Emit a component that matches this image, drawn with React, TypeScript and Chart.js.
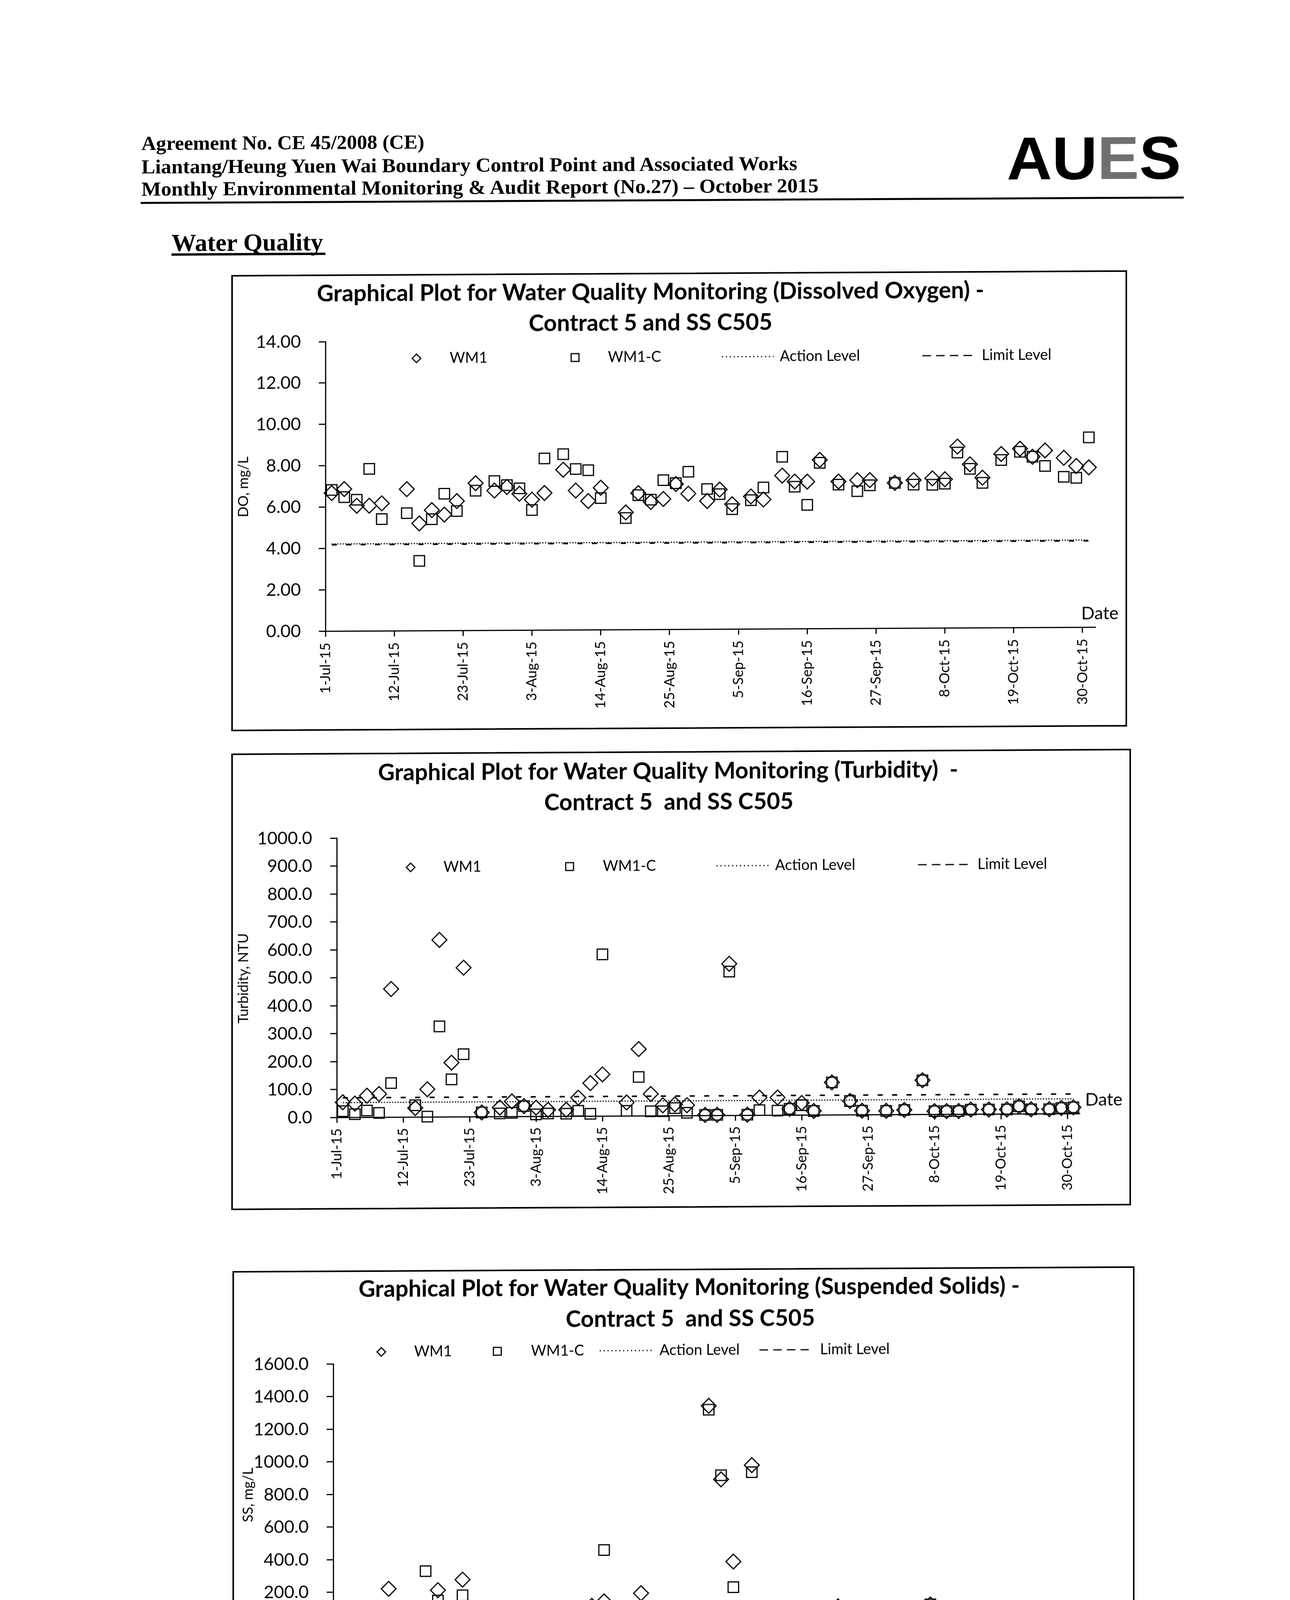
import React, { useEffect, useRef } from 'react';
import { Chart, registerables } from 'chart.js';

Chart.register(...registerables);

// ---------------- data ----------------
const sampleDates = [
  '2015-07-02', '2015-07-04', '2015-07-06', '2015-07-08', '2015-07-10', '2015-07-14', '2015-07-16',
  '2015-07-18', '2015-07-20', '2015-07-22', '2015-07-25', '2015-07-28', '2015-07-30',
  '2015-08-01', '2015-08-03', '2015-08-05', '2015-08-08', '2015-08-10', '2015-08-12', '2015-08-14',
  '2015-08-18', '2015-08-20', '2015-08-22', '2015-08-24', '2015-08-26', '2015-08-28', '2015-08-31',
  '2015-09-02', '2015-09-04', '2015-09-07', '2015-09-09', '2015-09-12', '2015-09-14', '2015-09-16',
  '2015-09-18', '2015-09-21', '2015-09-24', '2015-09-26', '2015-09-30',
  '2015-10-03', '2015-10-06', '2015-10-08', '2015-10-10', '2015-10-12', '2015-10-14', '2015-10-17',
  '2015-10-20', '2015-10-22', '2015-10-24', '2015-10-27', '2015-10-29', '2015-10-31',
];

const doWM1 = [
  6.68, 6.87, 6.06, 6.06, 6.17, 6.85, 5.19, 5.83, 5.61, 6.26, 7.12, 6.76, 6.93,
  6.60, 6.31, 6.63, 7.75, 6.74, 6.23, 6.87, 5.67, 6.60, 6.17, 6.31, 7.03, 6.56, 6.20,
  6.75, 6.04, 6.41, 6.26, 7.41, 7.12, 7.11, 8.16, 7.11, 7.17, 7.17, 7.03,
  7.16, 7.24, 7.19, 8.77, 7.91, 7.26, 8.40, 8.65, 8.26, 8.56, 8.20, 7.80, 7.73,
];
const doWM1C = [
  6.83, 6.48, 6.35, 7.84, 5.41, 5.69, 3.38, 5.39, 6.62, 5.78, 6.76, 7.22, 7.02,
  6.86, 5.81, 8.30, 8.50, 7.78, 7.72, 6.37, 5.40, 6.50, 6.28, 7.22, 7.07, 7.62, 6.78,
  6.53, 5.80, 6.23, 6.84, 8.32, 6.87, 5.99, 8.02, 6.96, 6.64, 6.92, 7.03,
  6.94, 6.93, 6.98, 8.48, 7.69, 7.01, 8.11, 8.50, 8.26, 7.81, 7.28, 7.23, 9.18,
];
const doActionLevel = 4.22;
const doLimitLevel = 4.18;

const turbWM1 = [
  54, 49, 77, 83, 459, 32, 99, 634, 194, 534, 15, 32, 54,
  37, 31, 23, 23, 66, 118, 149, 48, 239, 78, 37, 40, 37, 2,
  2, 543, 2, 63, 63, 22, 43, 14, 116, 49, 14, 13,
  16, 122, 11, 11, 11, 16, 16, 16, 27, 16, 16, 20, 22,
];
const turbWM1C = [
  22, 11, 24, 15, 122, 42, 1, 324, 134, 224, 15, 11, 13,
  37, 7, 10, 9, 19, 8, 579, 18, 139, 16, 16, 27, 10, 2,
  2, 515, 2, 18, 16, 22, 35, 14, 116, 49, 14, 13,
  16, 122, 11, 11, 11, 16, 16, 16, 27, 16, 16, 20, 22,
];
const turbActionLevel = 53;
const turbLimitLevel = 70;

const ssWM1 = [
  46, 45, 60, 63, 220, 21, 53, 210, 94, 274, 10, 32, 55,
  37, 26, 26, 11, 53, 109, 136, 51, 185, 92, 35, 45, 40, 1331,
  880, 376, 966, 70, 70, 15, 70, 9, 98, 52, 6, 6,
  24, 107, 6, 15, 9, 15, 15, 15, 28, 15, 15, 24, 15,
];
const ssWM1C = [
  15, 4, 19, 5, 59, 21, 327, 147, 106, 178, 10, 2, 9,
  37, 2, 2, 2, 7, 7, 451, 5, 73, 2, 4, 32, 2, 1307,
  905, 219, 923, 20, 24, 24, 80, 9, 98, 52, 6, 6,
  24, 107, 6, 15, 9, 15, 15, 15, 28, 15, 15, 24, 24,
];
const ssActionLevel = 58;
const ssLimitLevel = 63;

const seriesLabels = ['WM1', 'WM1-C', 'Action Level', 'Limit Level'];
const xAxisStart = '2015-07-01';
const xAxisEnd = '2015-11-01';
const xTickStepDays = 11;
const monthNames = ['Jan', 'Feb', 'Mar', 'Apr', 'May', 'Jun', 'Jul', 'Aug', 'Sep', 'Oct', 'Nov', 'Dec'];

// ---------------- helpers ----------------
const toUTC = (iso: string) => {
  const [y, m, d] = iso.split('-').map(Number);
  return Date.UTC(y, m - 1, d);
};
const BASE = toUTC(xAxisStart);
const dayOf = (iso: string) => (toUTC(iso) - BASE) / 86400000;
const fmtDay = (v: number) => {
  const dt = new Date(BASE + Math.round(v) * 86400000);
  return `${dt.getUTCDate()}-${monthNames[dt.getUTCMonth()]}-${String(dt.getUTCFullYear()).slice(2)}`;
};

type Box = { x: number; y: number; w: number; h: number };
type Area = { left: number; top: number; right: number; bottom: number };
type Deco = {
  title: string[];
  titleX: number[];
  titleY: number[];
  legendY: number;
  legendX: number[];
  dateRight: number;
  dateBaseline: number;
};

function makeDecoPlugin(deco: Deco) {
  return {
    id: 'wqDeco',
    afterDraw(chart: any) {
      const ctx: CanvasRenderingContext2D = chart.ctx;
      const labels = chart.data.datasets.map((d: any) => String(d.label));
      ctx.save();
      ctx.fillStyle = '#000';
      ctx.strokeStyle = '#000';
      ctx.textAlign = 'center';
      ctx.textBaseline = 'middle';
      ctx.font = 'bold 59px Lato';
      deco.title.forEach((t, i) => ctx.fillText(t, deco.titleX[i], deco.titleY[i]));

      const y = deco.legendY;
      const L = deco.legendX;
      ctx.lineWidth = 3;
      ctx.beginPath();
      ctx.moveTo(L[0] - 11, y);
      ctx.lineTo(L[0], y - 11);
      ctx.lineTo(L[0] + 11, y);
      ctx.lineTo(L[0], y + 11);
      ctx.closePath();
      ctx.stroke();
      ctx.strokeRect(L[2] - 10, y - 10, 20, 20);
      ctx.setLineDash([3, 7]);
      ctx.beginPath();
      ctx.moveTo(L[4], y);
      ctx.lineTo(L[5], y);
      ctx.stroke();
      ctx.setLineDash([22, 13]);
      ctx.beginPath();
      ctx.moveTo(L[7], y);
      ctx.lineTo(L[8], y);
      ctx.stroke();
      ctx.setLineDash([]);

      ctx.font = '38px Lato';
      ctx.textAlign = 'left';
      ctx.fillText(labels[0], L[1], y);
      ctx.fillText(labels[1], L[3], y);
      ctx.fillText(labels[2], L[6], y);
      ctx.fillText(labels[3], L[9], y);

      ctx.font = '45px Lato';
      ctx.textAlign = 'right';
      ctx.textBaseline = 'alphabetic';
      ctx.fillText('Date', deco.dateRight, deco.dateBaseline);
      ctx.restore();
    },
  };
}

type Props = {
  box: Box;
  area: Area;
  yMin: number;
  yMax: number;
  yStep: number;
  yDecimals: number;
  yTitle: string;
  yTitlePad: number;
  xLabelPad: number;
  wm1: number[];
  wm1c: number[];
  action: number;
  limit: number;
  deco: Deco;
};

function WQChart(p: Props) {
  const ref = useRef<HTMLCanvasElement | null>(null);
  useEffect(() => {
    if (!ref.current) return;
    const pts = (vals: number[]) => sampleDates.map((d, i) => ({ x: dayOf(d), y: vals[i] }));
    const first = dayOf(sampleDates[0]);
    const last = dayOf(sampleDates[sampleDates.length - 1]);
    const level = (v: number) => [{ x: first, y: v }, { x: last, y: v }];
    const markerCommon = {
      showLine: false,
      pointRadius: 19,
      pointBorderWidth: 3,
      borderWidth: 3,
      borderColor: '#000',
      pointBorderColor: '#000',
      backgroundColor: 'rgba(0,0,0,0)',
      pointBackgroundColor: 'rgba(0,0,0,0)',
      clip: false as any,
    };
    const chart = new Chart(ref.current, {
      type: 'scatter',
      data: {
        datasets: [
          { ...markerCommon, label: seriesLabels[0], data: pts(p.wm1), pointStyle: 'rectRot' },
          { ...markerCommon, label: seriesLabels[1], data: pts(p.wm1c), pointStyle: 'rect' },
          {
            label: seriesLabels[2], data: level(p.action), showLine: true, pointRadius: 0,
            borderColor: '#000', borderWidth: 3, borderDash: [3, 4], fill: false, clip: false as any,
          },
          {
            label: seriesLabels[3], data: level(p.limit), showLine: true, pointRadius: 0,
            borderColor: '#000', borderWidth: 4, borderDash: [13, 24], fill: false, clip: false as any,
          },
        ],
      },
      options: {
        responsive: false,
        animation: false,
        devicePixelRatio: 1,
        events: [],
        layout: { padding: { left: 0, top: p.area.top, right: p.box.w - p.area.right, bottom: 0 } },
        plugins: { legend: { display: false }, title: { display: false }, tooltip: { enabled: false } },
        scales: {
          x: {
            type: 'linear',
            min: 0,
            max: dayOf(xAxisEnd),
            afterFit: (s: any) => { s.height = p.box.h - p.area.bottom; },
            ticks: {
              stepSize: xTickStepDays,
              includeBounds: false,
              autoSkip: false,
              maxRotation: 90,
              minRotation: 90,
              padding: p.xLabelPad,
              color: '#000',
              font: { family: 'Lato', size: 36 },
              callback: (v: any) => fmtDay(Number(v)),
            },
            grid: { drawOnChartArea: false, drawTicks: true, tickLength: 14, color: '#000', lineWidth: 3 },
            border: { display: true, color: '#000', width: 3 },
          },
          y: {
            type: 'linear',
            min: p.yMin,
            max: p.yMax,
            afterFit: (s: any) => { s.width = p.area.left; },
            ticks: {
              stepSize: p.yStep,
              padding: 46,
              color: '#000',
              font: { family: 'Lato', size: 45 },
              callback: (v: any) => Number(v).toFixed(p.yDecimals),
            },
            grid: { drawOnChartArea: false, drawTicks: true, tickLength: 17, color: '#000', lineWidth: 3 },
            border: { display: true, color: '#000', width: 3 },
            title: {
              display: true,
              text: p.yTitle,
              color: '#000',
              font: { family: 'Lato', size: 36 },
              padding: { top: p.yTitlePad, bottom: 0 },
            },
          },
        },
      } as any,
      plugins: [makeDecoPlugin(p.deco)],
    });
    return () => chart.destroy();
  }, []);
  return (
    <canvas
      ref={ref}
      width={p.box.w}
      height={p.box.h}
      style={{ position: 'absolute', left: p.box.x, top: p.box.y, width: p.box.w, height: p.box.h }}
    />
  );
}

// ---------------- layout ----------------
const box1: Box = { x: 594, y: 709, w: 2289, h: 1164 };
const box2: Box = { x: 594, y: 1934, w: 2299, h: 1165 };
const box3: Box = { x: 597, y: 3259, w: 2305, h: 1167 };

const deco1: Deco = {
  title: ['Graphical Plot for Water Quality Monitoring (Dissolved Oxygen) -', 'Contract 5 and SS C505'],
  titleX: [1071, 1071],
  titleY: [48, 127],
  legendY: 214,
  legendX: [472, 557, 878, 962, 1254, 1386, 1402, 1767, 1896, 1919],
  dateRight: 2269,
  dateBaseline: 891,
};
const deco2: Deco = {
  title: ['Graphical Plot for Water Quality Monitoring (Turbidity)  -', 'Contract 5  and SS C505'],
  titleX: [1116, 1118],
  titleY: [50, 129],
  legendY: 292,
  legendX: [457, 541, 864, 949, 1240, 1374, 1390, 1756, 1884, 1908],
  dateRight: 2279,
  dateBaseline: 911,
};
const deco3: Deco = {
  title: ['Graphical Plot for Water Quality Monitoring (Suspended Solids) -', 'Contract 5  and SS C505'],
  titleX: [1167, 1170],
  titleY: [47, 127],
  legendY: 207,
  legendX: [379, 463, 676, 762, 938, 1075, 1091, 1347, 1473, 1502],
  dateRight: 2285,
  dateBaseline: 909,
};

export default function App() {
  const serif = "'Liberation Serif', 'Times New Roman', serif";
  return (
    <div
      style={{
        position: 'absolute', left: 0, top: 0, width: 3302, height: 4669, background: '#fff',
        overflow: 'hidden', transform: 'skewY(-0.3deg)', transformOrigin: '0 0',
      }}
    >
      <svg width={3302} height={4669} style={{ position: 'absolute', left: 0, top: 0 }}>
        <g fontFamily={serif} fontWeight="bold" fill="#000" fontSize={51}>
          <text x={362} y={386} textLength={724} lengthAdjust="spacingAndGlyphs">Agreement No. CE 45/2008 (CE)</text>
          <text x={362} y={446} textLength={1679} lengthAdjust="spacingAndGlyphs">
            Liantang/Heung Yuen Wai Boundary Control Point and Associated Works
          </text>
          <text x={362} y={503} textLength={1733} lengthAdjust="spacingAndGlyphs">
            Monthly Environmental Monitoring &amp; Audit Report (No.27) – October 2015
          </text>
        </g>
        <text
          x={2577} y={473} fontSize={155} fontWeight="bold" fontFamily="'Liberation Sans', Arial, sans-serif"
          textLength={446} lengthAdjust="spacingAndGlyphs" fill="#000"
        >
          AU<tspan fill="#707070">E</tspan>S
        </text>
        <rect x={360} y={519} width={2670} height={5} fill="#000" />
        <text x={439} y={645} fontFamily={serif} fontWeight="bold" fontSize={63} textLength={388} lengthAdjust="spacingAndGlyphs">
          Water Quality
        </text>
        <rect x={439} y={651} width={394} height={6} fill="#000" />

        {[box1, box2, box3].map((b, i) => (
          <rect key={i} x={b.x} y={b.y} width={b.w} height={b.h} fill="none" stroke="#000" strokeWidth={4} />
        ))}

        <rect x={443} y={4500} width={2607} height={5} fill="#000" />
        <text x={446} y={4547} fontFamily={serif} fontSize={38} textLength={1745} lengthAdjust="spacingAndGlyphs">
          {'Z:\\Jobs\\2013\\TCS00694\\600\\EM&A Report\\Monthly EM&A Report\\27th (Oct 2015)\\R0025v2.docx'}
        </text>
      </svg>

      <WQChart
        box={box1}
        area={{ left: 239, top: 170, right: 2209, bottom: 911.5 }}
        yMin={0} yMax={14} yStep={2} yDecimals={2}
        yTitle="DO, mg/L" yTitlePad={8} xLabelPad={15}
        wm1={doWM1} wm1c={doWM1C} action={doActionLevel} limit={doLimitLevel}
        deco={deco1}
      />
      <WQChart
        box={box2}
        area={{ left: 268, top: 216.5, right: 2169, bottom: 931 }}
        yMin={0} yMax={1000} yStep={100} yDecimals={1}
        yTitle="Turbidity, NTU" yTitlePad={8} xLabelPad={14}
        wm1={turbWM1} wm1c={turbWM1C} action={turbActionLevel} limit={turbLimitLevel}
        deco={deco2}
      />
      <WQChart
        box={box3}
        area={{ left: 256, top: 237, right: 2194, bottom: 905.5 }}
        yMin={0} yMax={1600} yStep={200} yDecimals={1}
        yTitle="SS, mg/L" yTitlePad={17} xLabelPad={18}
        wm1={ssWM1} wm1c={ssWM1C} action={ssActionLevel} limit={ssLimitLevel}
        deco={deco3}
      />
    </div>
  );
}
